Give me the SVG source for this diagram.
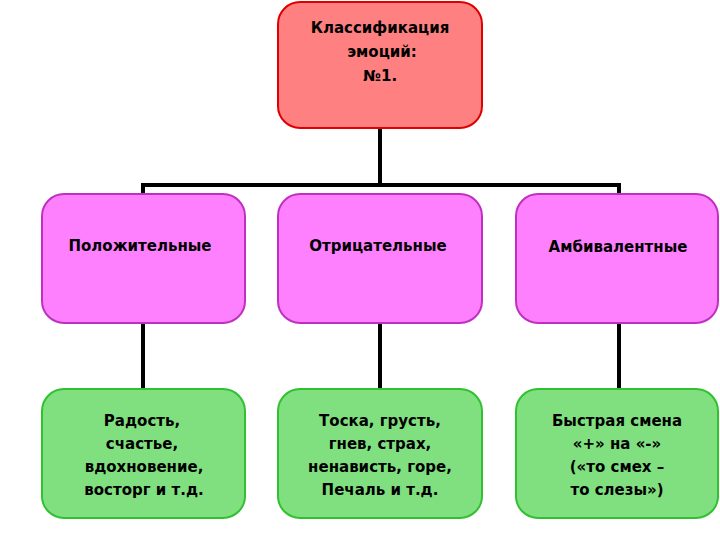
<svg xmlns="http://www.w3.org/2000/svg" width="720" height="540" viewBox="0 0 720 540">
<style>
text{font-family:"DejaVu Sans",Verdana,sans-serif;font-weight:bold;font-size:15px;fill:#000;text-anchor:middle}
.top{fill:#FF8080;stroke:#E00000;stroke-width:2}
.mid{fill:#FF80FF;stroke:#C030C0;stroke-width:2}
.bot{fill:#80E080;stroke:#30C030;stroke-width:2}
.c{stroke:#000;stroke-width:4;fill:none}
</style>
<rect width="720" height="540" fill="#fff"/>
<g id="connectors">
<path class="c" d="M380 128V186M143 185H619M143 183V196M619 183V196M143 323V390M380 323V390M619 323V390"/>
</g>
<g id="n0"><rect class="top" x="278" y="2" width="204" height="126" rx="22"/>
<text x="380" y="33">Классификация</text><text x="382" y="57">эмоций:</text><text x="380" y="81">№1.</text></g>
<g id="n1"><rect class="mid" x="42" y="194" width="203" height="129" rx="22"/><text x="140" y="251">Положительные</text></g>
<g id="n2"><rect class="mid" x="278" y="194" width="204" height="129" rx="22"/><text x="378" y="251">Отрицательные</text></g>
<g id="n3"><rect class="mid" x="516" y="194" width="202" height="129" rx="22"/><text x="618" y="252">Амбивалентные</text></g>
<g id="n4"><rect class="bot" x="42" y="389" width="203" height="129" rx="22"/>
<text x="142" y="426">Радость,</text><text x="142" y="449">счастье,</text><text x="144" y="472">вдохновение,</text><text x="144" y="495">восторг и т.д.</text></g>
<g id="n5"><rect class="bot" x="278" y="389" width="204" height="129" rx="22"/>
<text x="380" y="426">Тоска, грусть,</text><text x="380" y="449">гнев, страх,</text><text x="380" y="472">ненависть, горе,</text><text x="380" y="495">Печаль и т.д.</text></g>
<g id="n6"><rect class="bot" x="516" y="389" width="202" height="129" rx="22"/>
<text x="617" y="426">Быстрая смена</text><text x="617" y="449">«+» на «-»</text><text x="617" y="472">(«то смех –</text><text x="617" y="495">то слезы»)</text></g>
</svg>
